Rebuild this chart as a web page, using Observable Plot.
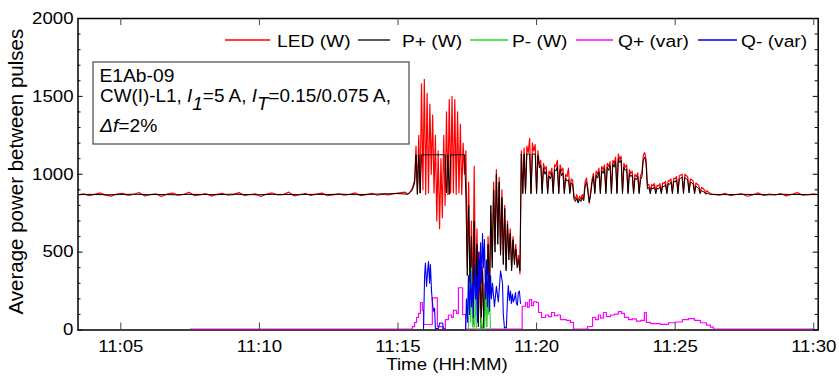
<!DOCTYPE html>
<html><head><meta charset="utf-8">
<script src="https://cdn.jsdelivr.net/npm/d3@7"></script>
<script src="https://cdn.jsdelivr.net/npm/@observablehq/plot@0.6"></script>
<style>body{margin:0;background:#fff} svg{display:block}</style>
</head><body><div id="chart"></div>
<script>
// ---- Data (time in minutes after 11:00, values in W / var) ----
const ledBaseStart = 3.46, ledBaseStep = 0.2;
const ledBase = [868,874,862,871,880,866,859,873,877,864,870,883,861,869,875,858,872,879,866,870,
  884,862,868,876,860,871,878,865,869,882,863,870,874,857,873,880,867,869,885,861,
  870,876,864,872,879,862,868,874,866,871,880,863,869,877,865,872,868,875,880,885];
const activeStart = 15.35, activeStep = 0.05;
const ledActive = [872,880,890,905,930,960,1180,880,1250,880,
  1580,900,1610,870,1520,880,1450,1000,1380,880,
  1250,700,1150,650,1100,720,1250,800,1400,870,
  1480,880,1500,880,1480,870,1400,880,1320,870,
  1200,1000,1150,400,950,300,700,150,1050,200,
  650,100,500,50,400,30,300,150,600,250,
  750,450,950,550,1030,600,980,500,900,450,
  800,400,700,500,650,400,600,450,550,420,
  480,360,1150,880,1170,900,1180,1140,1230,880,
  1200,1150,1190,890,1150,1060,1090,900,1070,1030,
  1050,890,1020,1000,1040,890,1060,1050,1090,890,
  1060,1020,1040,890,1000,985,1040,890,970,960,
  860,840,870,825,860,840,870,845,950,975,
  910,815,885,965,1005,890,1020,1000,1040,890,
  1050,1030,1060,890,1070,1050,1080,890,1090,1070,
  1110,890,1130,1095,1115,890,1070,1045,1060,890,
  1030,1005,1020,890,1000,985,1010,890,990,1010,
  1120,1140,1095,930,935,890,935,925,940,890,
  930,925,940,890,945,940,955,890,960,955,
  970,890,975,970,985,890,990,995,1000,890,
  1000,990,985,895,970,965,955,890,945,935,
  930,885,915,910,900,880,895,885,880,875,872];
const lateStart = 26.40;
const ledLateStep = 0.2;
const ledLate = [871,866,878,862,870,875,859,868,880,864,872,867,876,861,870,882,865,869,874,868];

const pPlusBaseStep = 0.5;
const pPlusBase = [869,871,868,870,872,869,870,868,871,870,869,872,870,868,871,870,869,871,870,872,869,871,874,876];
const pPlusActive = [872,878,885,895,915,945,1125,870,1125,880,
  1125,1125,1125,1125,1125,1125,1125,1125,1125,1125,
  1125,1125,1125,1125,1125,1125,1125,1125,880,1125,
  870,1125,1125,1125,1125,1125,1125,1125,1125,1125,
  1125,1125,860,350,800,250,600,30,700,100,
  550,20,450,10,380,10,300,20,550,200,
  800,400,900,500,1000,550,950,480,850,420,
  780,380,680,450,620,380,580,420,520,400,
  450,380,1130,875,1130,875,1130,1130,1130,875,
  1130,1130,1130,875,1120,1040,1060,875,1040,1000,
  1020,875,990,970,1010,875,1030,1020,1050,875,
  1030,990,1010,875,975,955,965,875,945,935,
  840,825,845,815,840,825,850,830,920,950,
  890,820,870,945,985,875,995,975,1015,875,
  1025,1005,1035,875,1045,1025,1055,875,1065,1045,
  1085,875,1100,1075,1090,875,1045,1025,1035,875,
  1005,985,995,875,975,965,985,875,965,985,
  1090,1110,1070,905,915,875,915,905,920,875,
  910,905,920,875,925,920,935,875,940,935,
  950,875,955,950,965,875,970,975,980,875,
  980,970,965,880,950,945,935,875,925,915,
  910,875,895,890,885,872,878,874,872,870,870];
const pPlusLateStep = 0.5;
const pPlusLate = [870,869,871,870,868,871,870,869,871];

const pMinusT = [17.54,17.58,17.62,17.65,17.69,17.76,17.80,17.83,17.98,18.01,18.05,18.12,18.16,18.19,18.23,18.26,18.30,18.34];
const pMinusV = [0,300,50,400,20,20,250,0,0,80,10,0,300,20,350,100,200,0];

const qPlusT = [7.51,15.52,15.60,15.67,15.74,15.81,15.88,15.92,16.24,16.42,16.61,16.71,16.82,16.93,17.00,17.11,17.18,17.33,17.44,
  19.48,19.60,19.67,19.74,19.82,19.89,20.00,20.07,20.18,20.32,20.43,20.54,20.65,20.75,20.86,21.08,21.22,21.33,
  21.84,22.02,22.13,22.23,22.31,22.41,22.52,22.67,22.81,22.95,23.06,23.17,23.32,23.46,23.60,23.75,23.89,23.96,
  24.11,24.47,24.76,25.01,25.26,25.48,25.70,25.91,26.13,26.27,26.38,30.00];
const qPlusV = [0,15,42,74,100,170,120,29,200,15,0,60,90,75,120,100,265,93,0,
  146,170,140,189,150,175,170,106,74,90,80,106,85,90,60,55,42,0,
  16,74,60,90,70,106,80,90,95,112,100,75,60,65,50,55,106,42,
  35,30,40,45,60,67,55,40,25,12,0,0];

const qMinusT = [15.92,15.96,15.99,16.03,16.07,16.10,16.14,16.17,16.21,16.24,16.28,16.32,16.35,16.46,16.50,16.61,16.64,16.75,
  17.44,17.47,17.51,17.54,17.58,17.62,17.65,17.69,17.72,17.76,17.80,17.83,17.87,17.90,17.94,17.98,18.01,18.05,18.08,18.12,18.16,18.19,18.23,18.26,18.30,18.34,18.37,18.41,
  18.48,18.55,18.62,18.70,18.77,18.80,18.84,18.91,18.95,18.98,19.02,19.06,19.09,19.13,19.16,19.20,19.24,19.27,19.31,19.34,19.38,19.42];
const qMinusV = [0,350,430,280,380,440,300,420,250,180,120,140,10,10,45,45,10,0,
  0,200,50,350,100,380,150,300,80,420,200,350,50,500,250,560,300,620,400,580,200,450,150,380,120,350,200,300,
  150,280,180,380,300,100,15,15,200,285,190,250,170,230,180,200,240,170,160,240,250,170];

const seriesNames = ["LED (W)","P+ (W)","P- (W)","Q+ (var)","Q- (var)"];
const seriesColors = ["#ff0000","#000000","#22dd22","#ff00ff","#0000ee"];

const xTicks = [5,10,15,20,25,30];
const xTickLabels = ["11:05","11:10","11:15","11:20","11:25","11:30"];
const yTicks = [0,500,1000,1500,2000];
const yMinorTicks = [100,200,300,400,600,700,800,900,1100,1200,1300,1400,1600,1700,1800,1900];
const xDomain = [3.456, 30.16];
const yDomain = [0, 2000];

const yTitle = "Average power between pulses";
const xTitle = "Time (HH:MM)";
const noteLine1 = "E1Ab-09";

// ---- build tables ----
const grid = (t0, dt, vals) => vals.map((v, i) => ({t: t0 + i * dt, v}));
const pairs = (ts, vs) => ts.map((t, i) => ({t, v: vs[i]}));
const ledData = [...grid(ledBaseStart, ledBaseStep, ledBase), ...grid(activeStart, activeStep, ledActive), ...grid(lateStart, ledLateStep, ledLate)];
const pPlusData = [...grid(ledBaseStart, pPlusBaseStep, pPlusBase), ...grid(activeStart, activeStep, pPlusActive), ...grid(lateStart, pPlusLateStep, pPlusLate)];
const pMinusData = pairs(pMinusT, pMinusV);
const qPlusData = pairs(qPlusT, qPlusV);
const qMinusData = pairs(qMinusT, qMinusV);

const W = 839, H = 376, mL = 77.5, mR = 21.3, mT = 18, mB = 46.5;
const plotW = W - mL - mR, plotH = H - mT - mB;
const FONT = "'Liberation Sans', Arial, Helvetica, sans-serif";
const SX = 1.13;

const svg = Plot.plot({
  width: W, height: H,
  marginLeft: mL, marginRight: mR, marginTop: mT, marginBottom: mB,
  style: {fontFamily: FONT, fontSize: "16.5px", background: "#fff", color: "#000"},
  x: {domain: xDomain, axis: null},
  y: {domain: yDomain, axis: null},
  marks: [
    Plot.frame({stroke: "#000", strokeWidth: 1.5}),
    Plot.line(ledData, {x: "t", y: "v", stroke: seriesColors[0], strokeWidth: 1.2, clip: true}),
    Plot.line(pPlusData, {x: "t", y: "v", stroke: seriesColors[1], strokeWidth: 1, clip: true}),
    Plot.line(qPlusData, {x: "t", y: "v", stroke: seriesColors[3], strokeWidth: 1.2, curve: "step-after", dy: -1, clip: true}),
    Plot.line(pMinusData, {x: "t", y: "v", stroke: seriesColors[2], strokeWidth: 1.1, clip: true}),
    Plot.line(qMinusData, {x: "t", y: "v", stroke: seriesColors[4], strokeWidth: 1.1, clip: true}),
    // inward ticks
    Plot.ruleY(yTicks, {y: d => d, insetRight: plotW - 5, stroke: "#000"}),
    Plot.ruleY(yMinorTicks, {y: d => d, insetRight: plotW - 3, stroke: "#000"}),
    Plot.ruleY(yTicks, {y: d => d, insetLeft: plotW - 5, stroke: "#000"}),
    Plot.ruleY(yMinorTicks, {y: d => d, insetLeft: plotW - 3, stroke: "#000"}),
    Plot.ruleX(xTicks, {x: d => d, insetTop: plotH - 7, stroke: "#444"}),
    Plot.ruleX(xTicks, {x: d => d, insetBottom: plotH - 7, stroke: "#444"}),
    // tick labels
    Plot.text(yTicks, {y: d => d, text: d => String(d), frameAnchor: "left", textAnchor: "end", dx: -4.5, fontSize: 16.5, fill: "#000"}),
    Plot.text(xTicks, {x: d => d, text: (d, i) => xTickLabels[i], frameAnchor: "bottom", lineAnchor: "top", dy: 10, fontSize: 16.5, fill: "#000"})
  ]
});

// horizontal stretch of tick labels (the reference text is wider than Arial)
svg.querySelectorAll("text").forEach(t => {
  const tr = t.getAttribute("transform");
  if (tr) t.setAttribute("transform", tr + ` scale(${SX},1)`);
  else {
    const x = +(t.getAttribute("x") || 0), y = +(t.getAttribute("y") || 0);
    t.removeAttribute("x"); t.removeAttribute("y");
    t.setAttribute("transform", `translate(${x},${y}) scale(${SX},1)`);
  }
});

const s = d3.select(svg);
// axis titles
s.append("text").attr("transform", "translate(23.3,171.7) rotate(-90)")
  .attr("text-anchor", "middle").attr("font-size", 20.5).attr("font-family", FONT).attr("fill", "#000").text(yTitle);
s.append("text").attr("transform", `translate(447,370) scale(${SX},1)`)
  .attr("text-anchor", "middle").attr("font-size", 16.5).attr("font-family", FONT).attr("fill", "#000").text(xTitle);

// legend
const legendPos = [[225, 270, 277], [358, 390, 402], [470, 508, 512], [576, 613, 618], [698, 737, 741]];
const lg = s.append("g").attr("font-family", FONT).attr("font-size", 17).attr("text-anchor", "start");
seriesNames.forEach((name, i) => {
  const [x1, x2, tx] = legendPos[i];
  lg.append("line").attr("x1", x1).attr("x2", x2).attr("y1", 40).attr("y2", 40)
    .attr("stroke", seriesColors[i]).attr("stroke-width", 1.3);
  lg.append("text").attr("text-anchor", "start").attr("transform", `translate(${tx},46.5) scale(${SX},1)`).attr("fill", "#000").text(name);
});

// annotation box
const ag = s.append("g").attr("font-family", FONT).attr("font-size", 17.5).attr("fill", "#000").attr("text-anchor", "start");
ag.append("rect").attr("x", 93).attr("y", 62).attr("width", 316).attr("height", 82)
  .attr("fill", "#fff").attr("stroke", "#555").attr("stroke-width", 1.3);
ag.append("text").attr("text-anchor", "start").attr("transform", "translate(99.5,81.5) scale(1.1,1)").text(noteLine1);
const l2 = ag.append("text").attr("text-anchor", "start").attr("transform", "translate(100,101.7) scale(1.08,1)").style("white-space", "pre");
l2.append("tspan").text("CW(I)-L1, ");
l2.append("tspan").attr("font-style", "italic").text("I");
l2.append("tspan").attr("font-style", "italic").attr("dy", 8).text("1");
l2.append("tspan").attr("dy", -8).text("=5 A, ");
l2.append("tspan").attr("font-style", "italic").text("I");
l2.append("tspan").attr("font-style", "italic").attr("dy", 8).text("T");
l2.append("tspan").attr("dy", -8).text("=0.15/0.075 A,");
const l3 = ag.append("text").attr("text-anchor", "start").attr("transform", "translate(100,131.5) scale(1.1,1)");
l3.append("tspan").attr("font-style", "italic").text("\u0394f");
l3.append("tspan").text("=2%");

document.getElementById("chart").appendChild(svg);
</script></body></html>
